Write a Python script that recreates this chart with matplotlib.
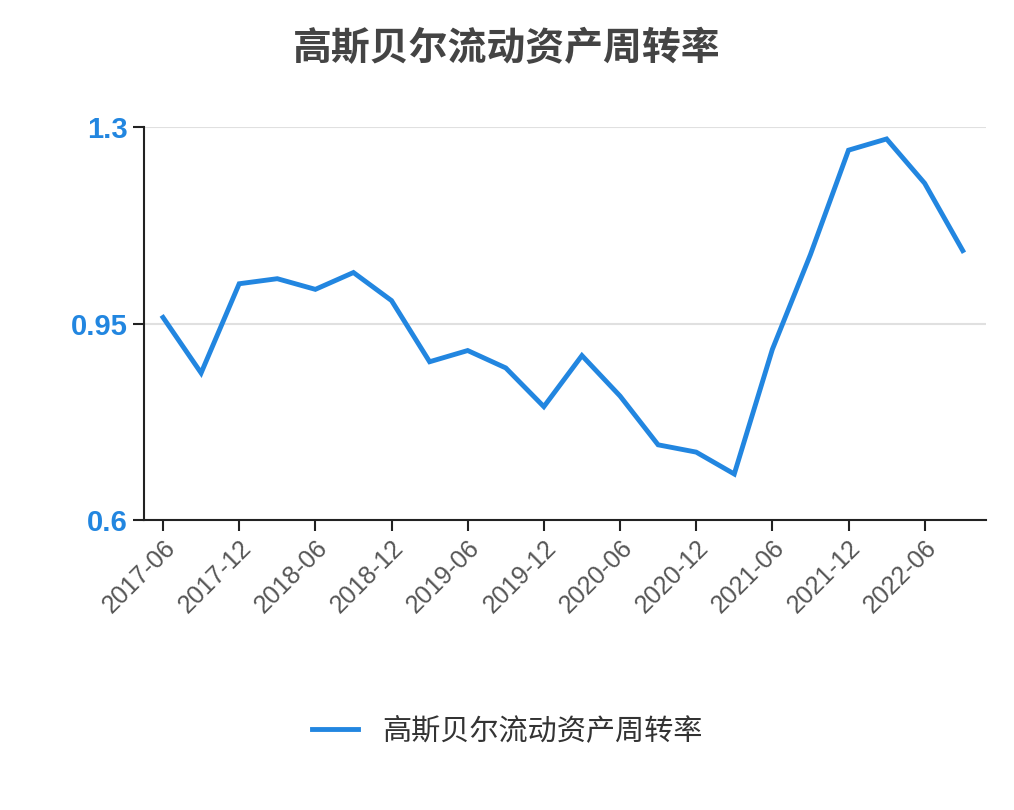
import matplotlib
matplotlib.use("Agg")
import matplotlib.pyplot as plt

plt.rcParams['font.family'] = ['Liberation Sans', 'Noto Sans CJK SC', 'DejaVu Sans']

dates = ["2017-06","2017-09","2017-12","2018-03","2018-06","2018-09","2018-12","2019-03",
         "2019-06","2019-09","2019-12","2020-03","2020-06","2020-09","2020-12","2021-03",
         "2021-06","2021-09","2021-12","2022-03","2022-06","2022-09"]
values = [0.961,0.862,1.021,1.030,1.011,1.041,0.991,0.882,0.902,0.871,0.802,0.893,
          0.821,0.734,0.721,0.682,0.904,1.073,1.259,1.279,1.200,1.080]
title = "高斯贝尔流动资产周转率"
yticks = [0.6, 0.95, 1.3]
ytick_labels = ["0.6", "0.95", "1.3"]

fig = plt.figure(figsize=(10.14, 8.10), dpi=100)
ax = fig.add_axes([0.142, 0.358, 0.83, 0.485])
x = list(range(len(dates)))
ax.plot(x, values, color="#2286e0", lw=3.5, label=title, solid_joinstyle="miter")
ax.set_xlim(-0.5, len(dates) - 0.4)
ax.set_ylim(0.6, 1.3)
ax.set_yticks(yticks)
ax.set_yticklabels(ytick_labels, color="#2286e0", fontsize=21, fontweight="bold")
ax.set_xticks(x[::2])
ax.set_xticklabels(dates[::2], rotation=45, ha="right", rotation_mode="anchor",
                   fontsize=18, color="#555555")
ax.grid(axis="y", color="#e0e0e0", lw=1.5)
ax.set_axisbelow(True)
for s in ["top", "right"]:
    ax.spines[s].set_visible(False)
for s in ["left", "bottom"]:
    ax.spines[s].set_color("#222222")
    ax.spines[s].set_linewidth(1.5)
ax.tick_params(axis="both", length=8, width=1.5, color="#222222")
fig.text(0.5, 0.94, title, ha="center", va="center", fontsize=28, fontweight="bold", color="#444444",
         family=['Noto Sans CJK SC', 'DejaVu Sans'])
leg = fig.legend(loc="center", bbox_to_anchor=(0.5, 0.097), frameon=False, fontsize=21,
           handlelength=1.6, labelcolor="#333333", prop={'family': ['Noto Sans CJK SC'], 'size': 21})
fig.savefig("out.png", dpi=100)
